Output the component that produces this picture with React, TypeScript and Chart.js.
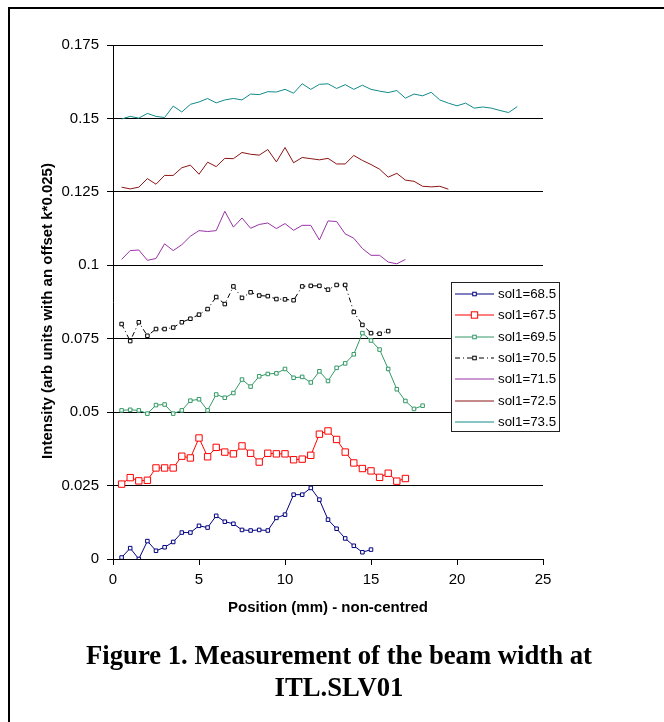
import React, { useEffect, useRef } from 'react';
import { Chart, registerables } from 'chart.js';

Chart.register(...registerables);

const positions = [
  0.5, 1, 1.5, 2, 2.5, 3, 3.5, 4, 4.5, 5, 5.5, 6, 6.5, 7, 7.5, 8, 8.5, 9, 9.5, 10,
  10.5, 11, 11.5, 12, 12.5, 13, 13.5, 14, 14.5, 15, 15.5, 16, 16.5, 17, 17.5, 18,
  18.5, 19, 19.5, 20, 20.5, 21, 21.5, 22, 22.5, 23, 23.5,
];

const seriesLabels = ['sol1=68.5', 'sol1=67.5', 'sol1=69.5', 'sol1=70.5', 'sol1=71.5', 'sol1=72.5', 'sol1=73.5'];

const sol685 = [0.0005, 0.0037, 0.0, 0.0061, 0.0028, 0.004, 0.0058, 0.009, 0.009, 0.0113, 0.0107, 0.0147, 0.0127, 0.012, 0.0099, 0.0097, 0.0099, 0.0097, 0.014, 0.0151, 0.0219, 0.0219, 0.0242, 0.0202, 0.0134, 0.0103, 0.007, 0.0045, 0.0023, 0.0032];
const sol675 = [0.0255, 0.0277, 0.0266, 0.0268, 0.031, 0.031, 0.031, 0.035, 0.0344, 0.0412, 0.0348, 0.038, 0.0364, 0.0358, 0.0385, 0.036, 0.033, 0.036, 0.0358, 0.0358, 0.0338, 0.034, 0.0353, 0.0425, 0.0436, 0.0407, 0.0364, 0.0327, 0.0308, 0.03, 0.0278, 0.0292, 0.0265, 0.0274];
const sol695 = [0.0506, 0.0508, 0.0506, 0.0495, 0.0524, 0.0526, 0.0495, 0.0506, 0.0539, 0.0544, 0.0506, 0.056, 0.0549, 0.0565, 0.0611, 0.0587, 0.0622, 0.063, 0.0632, 0.0647, 0.0617, 0.062, 0.0601, 0.0639, 0.0606, 0.0651, 0.0666, 0.0697, 0.0769, 0.0744, 0.0713, 0.0647, 0.0578, 0.0538, 0.0511, 0.0522];
const sol705 = [0.08, 0.0742, 0.0806, 0.076, 0.0783, 0.0783, 0.0788, 0.0806, 0.0818, 0.0832, 0.0851, 0.0892, 0.0868, 0.0928, 0.0889, 0.0908, 0.0897, 0.0895, 0.0885, 0.0884, 0.0881, 0.0928, 0.093, 0.093, 0.0917, 0.0933, 0.0933, 0.0841, 0.0797, 0.0769, 0.0767, 0.0776];
const sol715 = [0.102, 0.105, 0.1052, 0.1017, 0.1023, 0.1073, 0.105, 0.107, 0.1099, 0.1118, 0.1115, 0.1118, 0.1184, 0.113, 0.1161, 0.1126, 0.1139, 0.1144, 0.1125, 0.1142, 0.1119, 0.1136, 0.1136, 0.1086, 0.1151, 0.1149, 0.1107, 0.1092, 0.1057, 0.1034, 0.1034, 0.1011, 0.1005, 0.102];
const sol725 = [0.1266, 0.126, 0.1266, 0.1295, 0.1276, 0.1306, 0.1306, 0.1332, 0.1341, 0.131, 0.1351, 0.1336, 0.1364, 0.1363, 0.1384, 0.1378, 0.1375, 0.1394, 0.1352, 0.1401, 0.1349, 0.1367, 0.1363, 0.1359, 0.1364, 0.1345, 0.1345, 0.1374, 0.1357, 0.1343, 0.1327, 0.13, 0.1313, 0.129, 0.1286, 0.1269, 0.1267, 0.1269, 0.1259];
const sol735 = [0.1498, 0.1507, 0.1501, 0.1517, 0.1507, 0.1503, 0.1542, 0.1522, 0.1548, 0.1556, 0.1568, 0.1553, 0.1563, 0.1568, 0.1563, 0.1583, 0.1581, 0.1591, 0.159, 0.1599, 0.1586, 0.1618, 0.1599, 0.1616, 0.1618, 0.1602, 0.1615, 0.1599, 0.1613, 0.1599, 0.1593, 0.1588, 0.1595, 0.1569, 0.1583, 0.1577, 0.1589, 0.1563, 0.1552, 0.1543, 0.1552, 0.1535, 0.1539, 0.1535, 0.1527, 0.152, 0.154];

const xTitle = 'Position (mm) - non-centred';
const yTitle = 'Intensity (arb units with an offset k*0.025)';
const captionLines = ['Figure 1. Measurement of the beam width at', 'ITL.SLV01'];

const SANS = '"Liberation Sans", Arial, sans-serif';

const toPoints = (vals: number[]) => vals.map((y, i) => ({ x: positions[i], y }));

const legendPlugin = {
  id: 'boxLegend',
  afterDraw(chart: any) {
    const ctx = chart.ctx as CanvasRenderingContext2D;
    ctx.save();
    const x0 = 451, y0 = 282, w = 108, h = 149;
    ctx.fillStyle = '#ffffff';
    ctx.fillRect(x0, y0, w, h);
    ctx.strokeStyle = '#222222';
    ctx.lineWidth = 1;
    ctx.strokeRect(x0 + 0.5, y0 + 0.5, w, h);
    chart.data.datasets.forEach((ds: any, i: number) => {
      const y = Math.round(y0 + 12 + i * 21.3);
      ctx.strokeStyle = ds.borderColor;
      ctx.lineWidth = 1;
      ctx.setLineDash(ds.borderDash || []);
      ctx.beginPath();
      ctx.moveTo(455, y);
      ctx.lineTo(494, y);
      ctx.stroke();
      ctx.setLineDash([]);
      if (ds.pointRadius > 0) {
        const s = ds.pointRadius * Math.SQRT1_2;
        ctx.fillStyle = ds.pointBackgroundColor;
        ctx.strokeStyle = ds.pointBorderColor;
        ctx.fillRect(474.5 - s, y - s, 2 * s, 2 * s);
        ctx.strokeRect(474.5 - s, y - s, 2 * s, 2 * s);
      }
      ctx.fillStyle = '#000';
      ctx.font = '13.3px ' + SANS;
      ctx.textBaseline = 'middle';
      ctx.textAlign = 'left';
      ctx.fillText(ds.label, 498, y);
    });
    ctx.restore();
  },
};

const yTitlePlugin = {
  id: 'yTitle',
  afterDraw(chart: any) {
    const ctx = chart.ctx as CanvasRenderingContext2D;
    ctx.save();
    ctx.translate(48, 311);
    ctx.rotate(-Math.PI / 2);
    ctx.font = 'bold 15px ' + SANS;
    ctx.fillStyle = '#000';
    ctx.textAlign = 'center';
    ctx.textBaseline = 'middle';
    ctx.fillText(yTitle, 0, 0);
    ctx.restore();
  },
};

function makeDataset(label: string, vals: number[], color: string, opts: any = {}) {
  return {
    label,
    data: toPoints(vals),
    borderColor: color,
    borderWidth: 1,
    pointStyle: 'rect',
    pointRadius: 0,
    pointBorderWidth: 1,
    pointBorderColor: color,
    pointBackgroundColor: '#ffffff',
    tension: 0,
    fill: false,
    ...opts,
  };
}

export default function App() {
  const canvasRef = useRef<HTMLCanvasElement>(null);

  useEffect(() => {
    if (!canvasRef.current) return;
    const chart = new Chart(canvasRef.current, {
      type: 'line',
      data: {
        datasets: [
          makeDataset(seriesLabels[0], sol685, '#000080', { pointRadius: 2.5 }),
          makeDataset(seriesLabels[1], sol675, '#ff0000', { pointRadius: 4.5 }),
          makeDataset(seriesLabels[2], sol695, '#339966', { pointRadius: 2.5 }),
          makeDataset(seriesLabels[3], sol705, '#000000', { pointRadius: 2.5, borderDash: [5, 3, 1, 3] }),
          makeDataset(seriesLabels[4], sol715, '#9933a6'),
          makeDataset(seriesLabels[5], sol725, '#8b1414'),
          makeDataset(seriesLabels[6], sol735, '#128a8a'),
        ],
      },
      options: {
        responsive: false,
        animation: false,
        devicePixelRatio: 1,
        parsing: true,
        layout: { padding: { left: 0, top: 45, right: 121, bottom: 0 } },
        plugins: {
          legend: { display: false },
          tooltip: { enabled: false },
        },
        scales: {
          x: {
            type: 'linear',
            min: 0,
            max: 25,
            afterFit: (scale: any) => { scale.height = 163; },
            border: { display: true, color: '#000', width: 1 },
            grid: { drawOnChartArea: false, drawTicks: true, tickLength: 6, color: '#000', lineWidth: 1 },
            ticks: { stepSize: 5, color: '#000', font: { size: 15, family: SANS }, padding: 6, maxRotation: 0 },
            title: {
              display: true,
              text: xTitle,
              color: '#000',
              font: { size: 15, weight: 'bold', family: SANS },
              padding: { top: 0, bottom: 105 },
            },
          },
          y: {
            type: 'linear',
            min: 0,
            max: 0.175,
            afterFit: (scale: any) => { scale.width = 113; },
            border: { display: true, color: '#000', width: 1 },
            grid: { drawOnChartArea: true, drawTicks: true, tickLength: 6, color: '#000', lineWidth: 1 },
            ticks: {
              stepSize: 0.025,
              color: '#000',
              font: { size: 15, family: SANS },
              padding: 8,
              callback: (v: any) => String(parseFloat(Number(v).toFixed(4))),
            },
          },
        },
      } as any,
      plugins: [legendPlugin, yTitlePlugin],
    });
    return () => chart.destroy();
  }, []);

  return (
    <div style={{ position: 'absolute', left: 0, top: 0, width: 664, height: 722, overflow: 'hidden', background: '#fff' }}>
      <div
        style={{
          position: 'absolute', left: 8, top: 7, width: 656, height: 715, boxSizing: 'border-box',
          borderLeft: '2px solid #000', borderTop: '2px solid #000',
        }}
      />
      <canvas ref={canvasRef} width={664} height={722} style={{ position: 'absolute', left: 0, top: 0, width: 664, height: 722 }} />
      <div
        style={{
          position: 'absolute', left: 0, top: 639, width: 678, textAlign: 'center',
          fontFamily: '"Liberation Serif", "Times New Roman", serif', fontWeight: 'bold',
          fontSize: 26.7, lineHeight: '32px', color: '#000',
        }}
      >
        {captionLines.map((l) => (<div key={l}>{l}</div>))}
      </div>
    </div>
  );
}
